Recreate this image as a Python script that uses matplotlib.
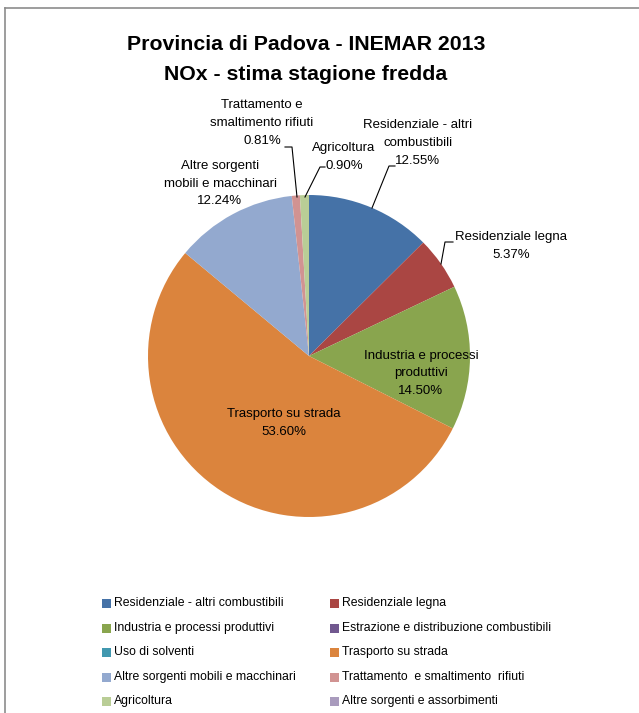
import matplotlib
matplotlib.use("Agg")
import matplotlib.pyplot as plt
from matplotlib.patches import Rectangle
from matplotlib.lines import Line2D

plt.rcParams["font.family"] = ["Liberation Sans", "DejaVu Sans"]

# Data
categories = [
    "Residenziale - altri combustibili",
    "Residenziale legna",
    "Industria e processi produttivi",
    "Estrazione e distribuzione combustibili",
    "Uso di solventi",
    "Trasporto su strada",
    "Altre sorgenti mobili e macchinari",
    "Trattamento  e smaltimento  rifiuti",
    "Agricoltura",
    "Altre sorgenti e assorbimenti",
]
shares = [12.55, 5.37, 14.50, 0.0, 0.0, 53.60, 12.24, 0.81, 0.90, 0.0]
colors = ["#4572A7", "#AA4643", "#89A54E", "#71588F", "#4198AF",
          "#DB843D", "#93A9CF", "#D19392", "#B9CD96", "#A99BBD"]
# label text shown on the pie (None = no label)
pie_labels = [
    "Residenziale - altri\ncombustibili",
    "Residenziale legna",
    "Industria e processi\nproduttivi",
    None,
    None,
    "Trasporto su strada",
    "Altre sorgenti\nmobili e macchinari",
    "Trattamento e\nsmaltimento rifiuti",
    "Agricoltura",
    None,
]

W, H = 639, 713
fig = plt.figure(figsize=(W / 100, H / 100), dpi=100)
fig.patch.set_facecolor("white")


def fx(px):
    return px / W


def fy(py):
    return 1 - py / H


# chart area border (cropped on right/bottom)
fig.add_artist(Line2D([fx(5), 1], [fy(8), fy(8)], color="#8c8c8c", lw=1.2))
fig.add_artist(Line2D([fx(5), fx(5)], [fy(8), 0], color="#8c8c8c", lw=1.2))

# title
fig.text(fx(306), fy(45), "Provincia di Padova - INEMAR 2013", ha="center", va="center",
         fontsize=15.3, fontweight="bold")
fig.text(fx(306), fy(75), "NOx - stima stagione fredda", ha="center", va="center",
         fontsize=15.3, fontweight="bold")

# pie
cx, cy, r = 309, 356, 161
ax = fig.add_axes([fx(cx - r), fy(cy + r), 2 * r / W, 2 * r / H])
ax.pie(shares, colors=colors, startangle=90, counterclock=False,
       wedgeprops={"linewidth": 0})
ax.set_xlim(-1, 1)
ax.set_ylim(-1, 1)
ax.axis("off")


def d(px, py):
    return ((px - cx) / r, (cy - py) / r)


# label positions (pixel centres) and optional leader lines
label_pos = {
    0: (418, 143),
    1: (511, 246),
    2: (421, 373),
    5: (284, 423),
    6: (220, 184),
    7: (262, 123),
    8: (344, 157),
}
leaders = {
    0: [(395, 166), (389, 166), (372, 208)],
    1: [(453, 242), (445, 242), (441, 264)],
    7: [(285, 147), (292, 147), (297, 197)],
    8: [(325, 167), (320, 167), (305, 197)],
}

line_h = 17.5
for i, (px, py) in label_pos.items():
    lines = pie_labels[i].split("\n") + ["%.2f%%" % shares[i]]
    top = py - line_h * (len(lines) - 1) / 2
    for k, line in enumerate(lines):
        ax.text(*d(px, top + k * line_h), line, ha="center", va="center",
                fontsize=9.5, clip_on=False)
for i, pts in leaders.items():
    xs = [d(*p)[0] for p in pts]
    ys = [d(*p)[1] for p in pts]
    ax.plot(xs, ys, color="black", lw=0.8, clip_on=False)

# legend (two columns, row-major order)
col_x = [102, 330]
row_y = [603, 628, 652, 677, 701]
for i, name in enumerate(categories):
    row, col = i // 2, i % 2
    x0, y0 = col_x[col], row_y[row]
    fig.add_artist(Rectangle((fx(x0), fy(y0 + 4.5)), 9 / W, 9 / H,
                             facecolor=colors[i], edgecolor="none"))
    fig.text(fx(x0 + 12), fy(y0), name, ha="left", va="center", fontsize=8.8)

fig.savefig("out.png", dpi=100)
